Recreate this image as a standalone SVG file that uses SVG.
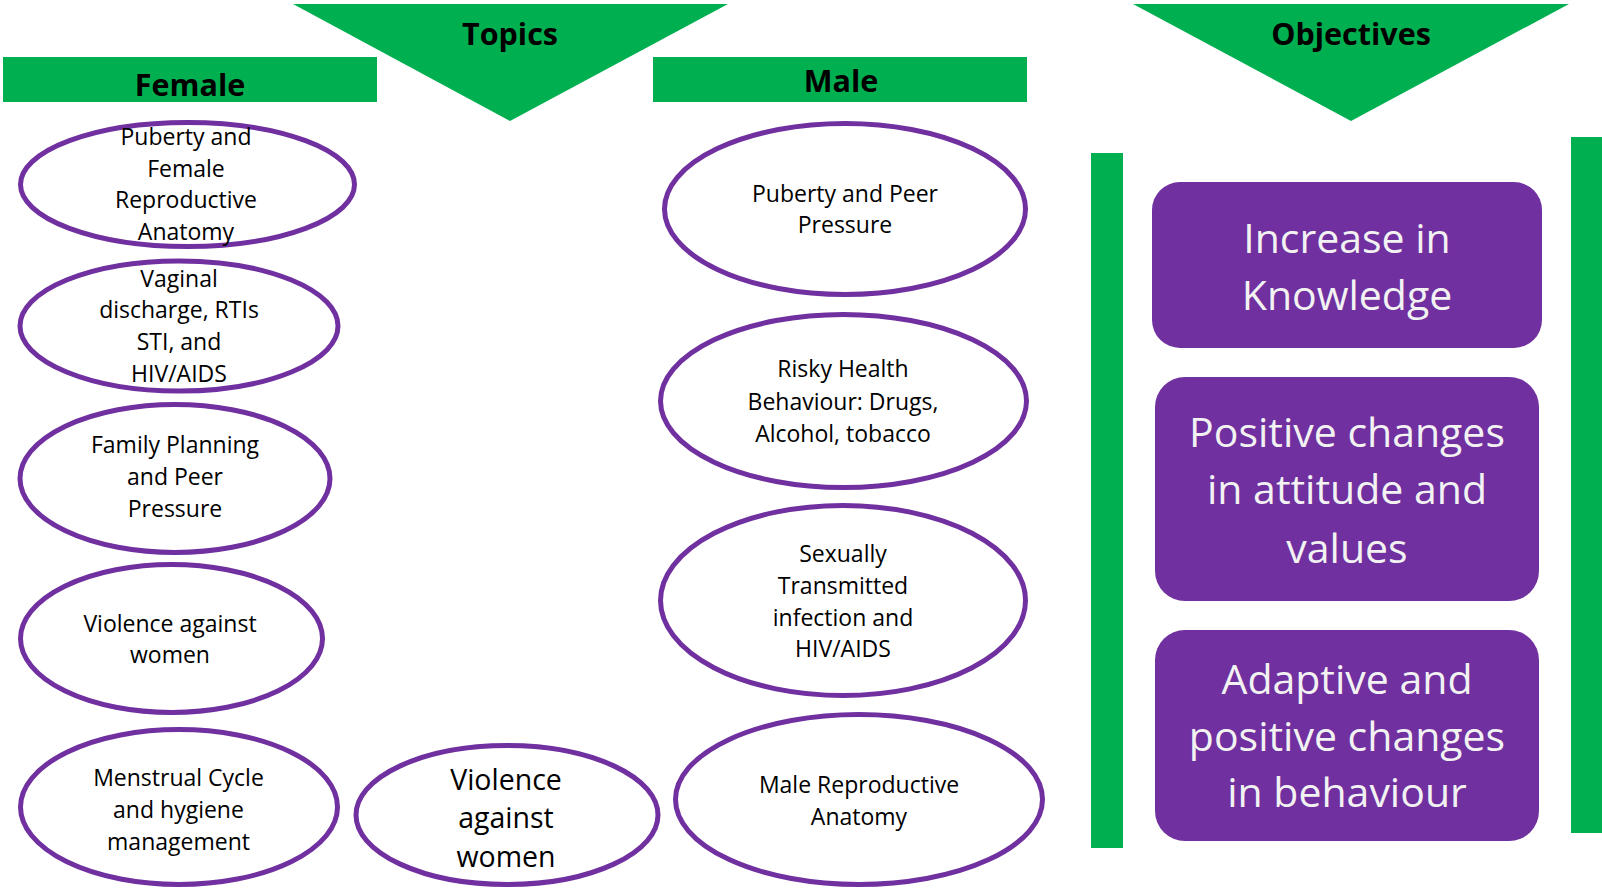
<svg xmlns="http://www.w3.org/2000/svg" width="1602" height="889" viewBox="0 0 1602 889">
<style>
.bg{fill:#ffffff}
.green{fill:#00B050}
.hdr{font-family:"Open Sans","Liberation Sans",sans-serif;font-weight:bold;font-size:30.5px;fill:#000;text-anchor:middle}
.ell{fill:#ffffff;stroke:#7030A0;stroke-width:5}
.t{font-family:"Open Sans","Liberation Sans",sans-serif;font-size:23px;fill:#000;text-anchor:middle}
.tb{font-family:"Open Sans","Liberation Sans",sans-serif;font-size:28.5px;fill:#000;text-anchor:middle}
.box{fill:#7030A0}
.bt{font-family:"Open Sans","Liberation Sans",sans-serif;font-size:41px;fill:#F2F2F2;text-anchor:middle}
</style>
<rect class="bg" x="0" y="0" width="1602" height="889"/>
<g id="connectors"></g>
<g id="topics-header">
<polygon class="green" points="293,4 728,4 510,121"/>
<text class="hdr" x="510" y="45">Topics</text>
</g>
<g id="objectives-header">
<polygon class="green" points="1133,4 1569,4 1351,121"/>
<text class="hdr" x="1351" y="45">Objectives</text>
</g>
<g id="female-header">
<rect class="green" x="3" y="57" width="374" height="45"/>
<text class="hdr" x="190" y="96">Female</text>
</g>
<g id="male-header">
<rect class="green" x="653" y="57" width="374" height="45"/>
<text class="hdr" x="841" y="92">Male</text>
</g>
<g id="bar-left"><rect class="green" x="1091" y="153" width="32" height="695"/></g>
<g id="bar-right"><rect class="green" x="1571" y="137" width="31" height="696"/></g>

<g id="f1">
<ellipse class="ell" cx="187.5" cy="184.5" rx="167" ry="62"/>
<text class="t" x="186" y="145">Puberty and</text>
<text class="t" x="186" y="177">Female</text>
<text class="t" x="186" y="208">Reproductive</text>
<text class="t" x="186" y="240">Anatomy</text>
</g>
<g id="f2">
<ellipse class="ell" cx="179" cy="326" rx="159" ry="65"/>
<text class="t" x="179" y="287">Vaginal</text>
<text class="t" x="179" y="318">discharge, RTIs</text>
<text class="t" x="179" y="350">STI, and</text>
<text class="t" x="179" y="382">HIV/AIDS</text>
</g>
<g id="f3">
<ellipse class="ell" cx="175" cy="478.5" rx="155" ry="74"/>
<text class="t" x="175" y="453">Family Planning</text>
<text class="t" x="175" y="485">and Peer</text>
<text class="t" x="175" y="517">Pressure</text>
</g>
<g id="f4">
<ellipse class="ell" cx="171.5" cy="638.5" rx="151" ry="74"/>
<text class="t" x="170" y="632">Violence against</text>
<text class="t" x="170" y="663">women</text>
</g>
<g id="f5">
<ellipse class="ell" cx="179" cy="807" rx="158.5" ry="77.5"/>
<text class="t" x="178.5" y="786">Menstrual Cycle</text>
<text class="t" x="178.5" y="818">and hygiene</text>
<text class="t" x="178.5" y="850">management</text>
</g>
<g id="topic-vaw">
<ellipse class="ell" cx="507" cy="815" rx="151" ry="69.5"/>
<text class="tb" x="506" y="790">Violence</text>
<text class="tb" x="506" y="828">against</text>
<text class="tb" x="506" y="867">women</text>
</g>
<g id="m1">
<ellipse class="ell" cx="845" cy="209" rx="180.5" ry="85.5"/>
<text class="t" x="845" y="202">Puberty and Peer</text>
<text class="t" x="845" y="233">Pressure</text>
</g>
<g id="m2">
<ellipse class="ell" cx="843.5" cy="401" rx="183" ry="86.5"/>
<text class="t" x="843" y="377">Risky Health</text>
<text class="t" x="843" y="410">Behaviour: Drugs,</text>
<text class="t" x="843" y="442">Alcohol, tobacco</text>
</g>
<g id="m3">
<ellipse class="ell" cx="843" cy="600.5" rx="182.5" ry="95"/>
<text class="t" x="843" y="562">Sexually</text>
<text class="t" x="843" y="594">Transmitted</text>
<text class="t" x="843" y="626">infection and</text>
<text class="t" x="843" y="657">HIV/AIDS</text>
</g>
<g id="m4">
<ellipse class="ell" cx="859" cy="799.5" rx="183.5" ry="85"/>
<text class="t" x="859" y="793">Male Reproductive</text>
<text class="t" x="859" y="825">Anatomy</text>
</g>

<g id="obj1">
<rect class="box" x="1152" y="182" width="390" height="166" rx="28"/>
<text class="bt" x="1347" y="253">Increase in</text>
<text class="bt" x="1347" y="310">Knowledge</text>
</g>
<g id="obj2">
<rect class="box" x="1155" y="377" width="384" height="224" rx="30"/>
<text class="bt" x="1347" y="447">Positive changes</text>
<text class="bt" x="1347" y="504">in attitude and</text>
<text class="bt" x="1347" y="563">values</text>
</g>
<g id="obj3">
<rect class="box" x="1155" y="630" width="384" height="211" rx="30"/>
<text class="bt" x="1347" y="694">Adaptive and</text>
<text class="bt" x="1347" y="751">positive changes</text>
<text class="bt" x="1347" y="807">in behaviour</text>
</g>
</svg>
